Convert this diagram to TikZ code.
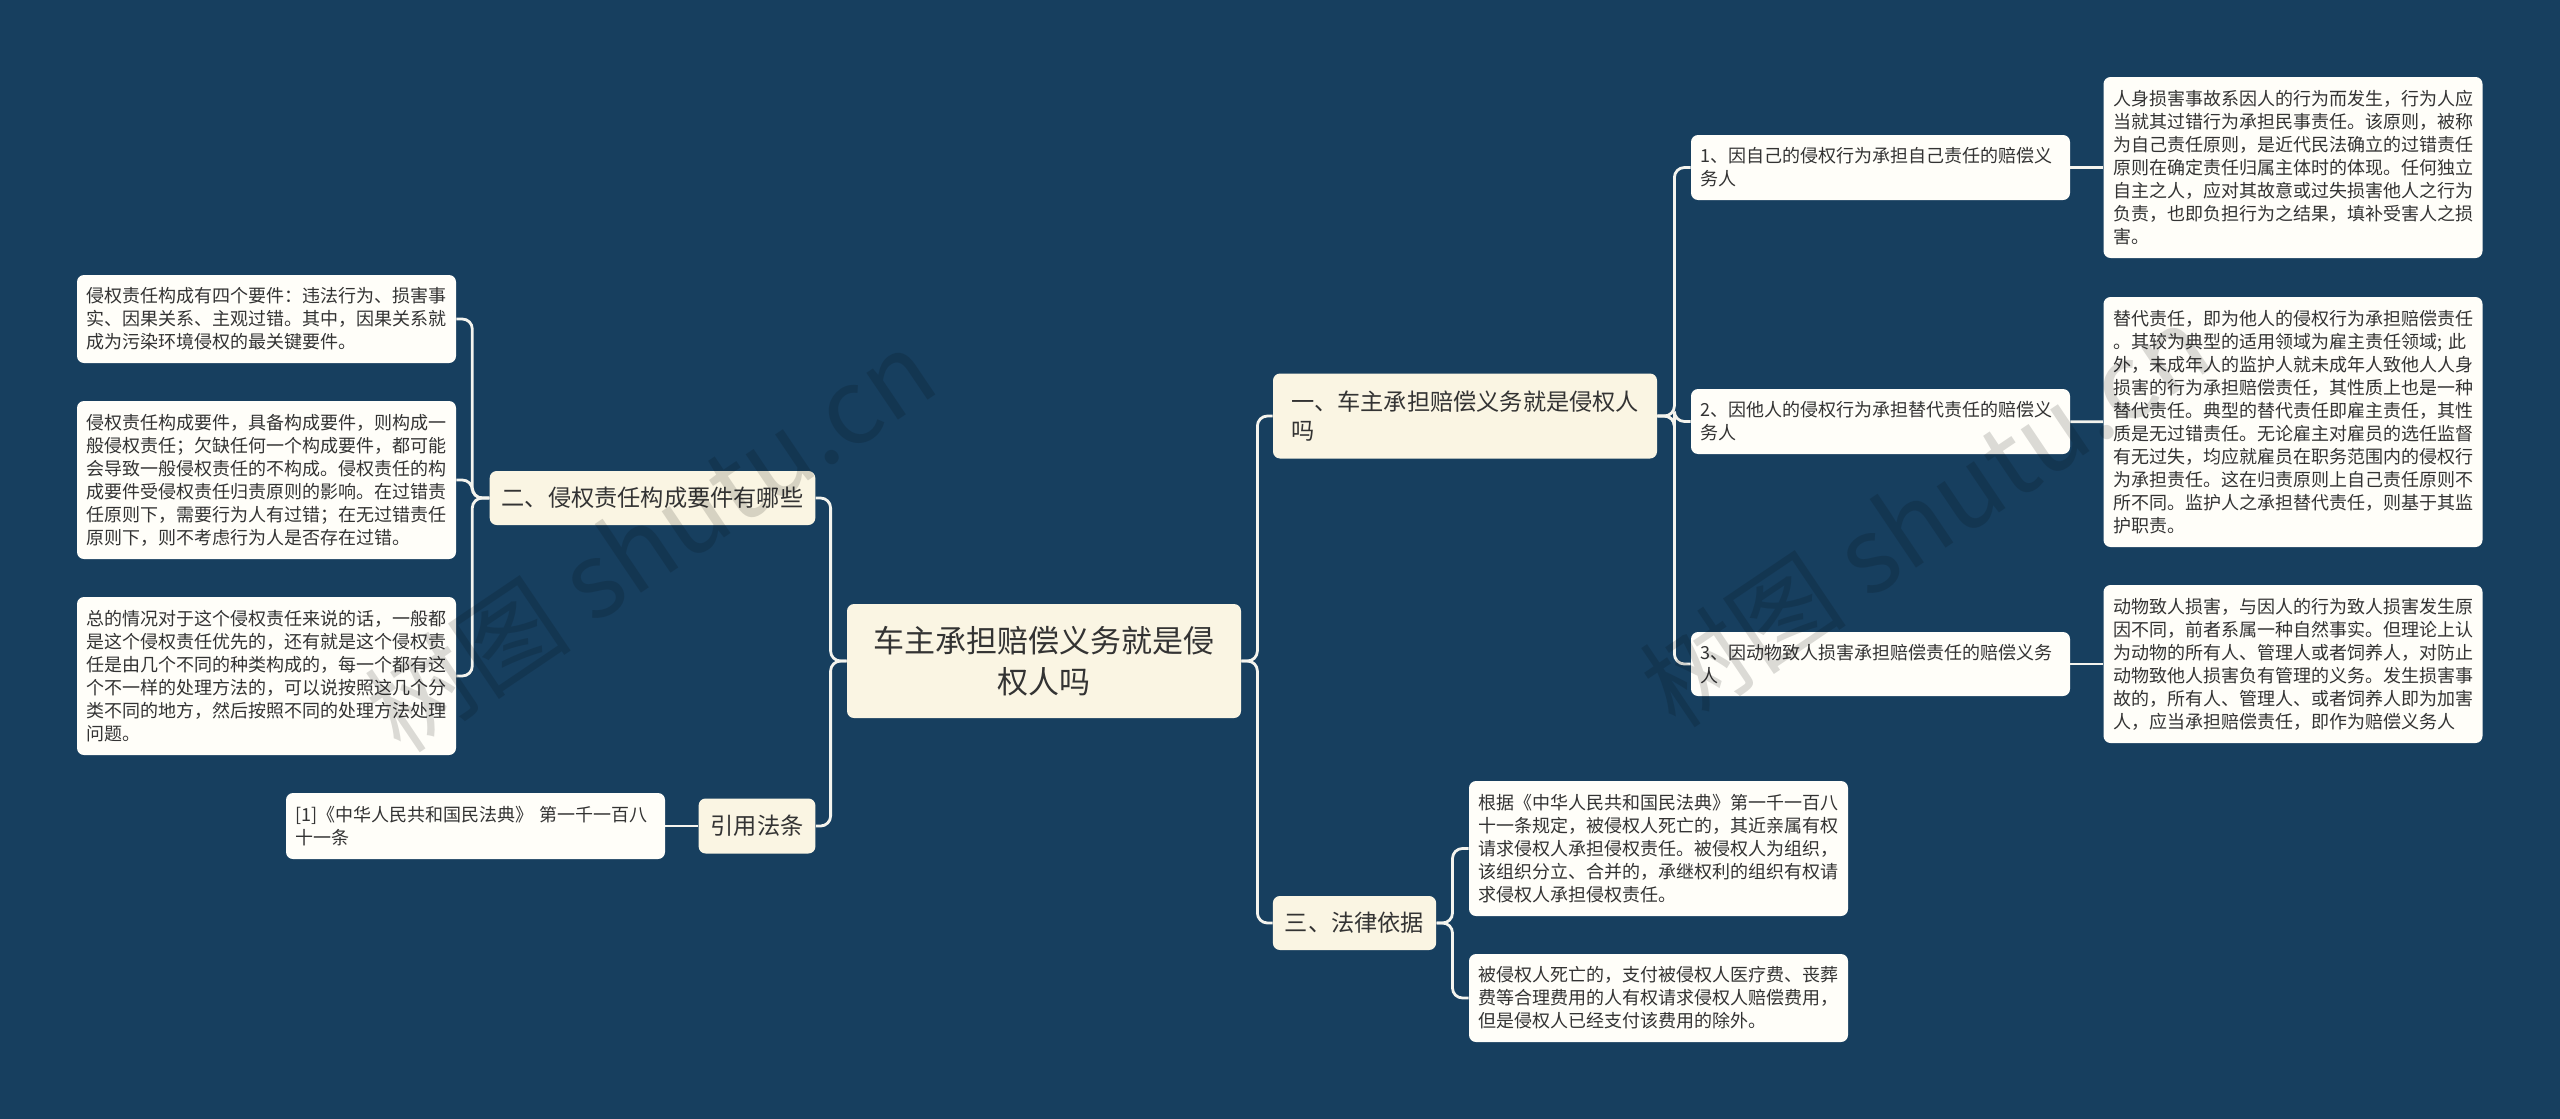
\documentclass[tikz,border=0pt]{standalone}
\usepackage{fontspec}
\setmainfont{Noto Sans CJK SC}
\definecolor{bgblue}{HTML}{173F5F}
\definecolor{paper}{HTML}{FFFEF9}
\definecolor{cream}{HTML}{FAF5E3}
\definecolor{wire}{HTML}{F4F4EE}
\definecolor{ink}{HTML}{333333}
\tikzset{
	box/.style={rectangle,rounded corners=3.5pt,text=ink,align=left,inner ysep=0pt},
	leaf/.style={box,fill=paper,inner xsep=4.75pt,text width=180pt,minimum width=189.5pt,font=\fontsize{9}{11.5}\selectfont},
	topic/.style={box,fill=cream,inner xsep=6pt,font=\fontsize{11.6}{14.5}\selectfont},
	link/.style={draw=wire,line width=1.4pt,rounded corners=5pt},
	stamp/.style={text=black,opacity=.14,rotate=34,font=\fontsize{52}{52}\selectfont}
}

\begin{document}
\begin{tikzpicture}
	[x=.5pt,y=-.5pt]
	\useasboundingbox (0,0) rectangle (2560,1119);
	\fill[bgblue] (0,0) rectangle (2560,1119);

	\node[box,fill=cream,align=center,inner xsep=6pt,minimum width=197pt,minimum height=57pt,font=\fontsize{15.5}{20.5}\selectfont] (root) at (1044,661) {车主承担赔偿义务就是侵\\权人吗};

	\node[topic,minimum width=192pt,minimum height=42.5pt] (one) at (1465,416) {一、车主承担赔偿义务就是侵权人\\吗};
	\node[topic,minimum width=81.5pt,minimum height=27pt] (three) at (1354.5,923) {三、法律依据};
	\node[topic,minimum width=162.5pt,minimum height=27pt] (two) at (652.5,498) {二、侵权责任构成要件有哪些};
	\node[topic,minimum width=58pt,minimum height=27.5pt] (law) at (757,826) {引用法条};

	\node[leaf,minimum height=32.5pt] (duty1) at (1880.5,167.5) {1、因自己的侵权行为承担自己责任的赔偿义\\务人};
	\node[leaf,minimum height=32.5pt] (duty2) at (1880.5,421.5) {2、因他人的侵权行为承担替代责任的赔偿义\\务人};
	\node[leaf,minimum height=32pt] (duty3) at (1880.5,664) {3、因动物致人损害承担赔偿责任的赔偿义务\\人};

	\node[leaf,minimum height=90.5pt] (self) at (2293,167.5) {人身损害事故系因人的行为而发生，行为人应\\当就其过错行为承担民事责任。该原则，被称\\为自己责任原则，是近代民法确立的过错责任\\原则在确定责任归属主体时的体现。任何独立\\自主之人，应对其故意或过失损害他人之行为\\负责，也即负担行为之结果，填补受害人之损\\害。};
	\node[leaf,minimum height=125pt] (proxy) at (2293,422) {替代责任，即为他人的侵权行为承担赔偿责任\\。其较为典型的适用领域为雇主责任领域; 此\\外，未成年人的监护人就未成年人致他人人身\\损害的行为承担赔偿责任，其性质上也是一种\\替代责任。典型的替代责任即雇主责任，其性\\质是无过错责任。无论雇主对雇员的选任监督\\有无过失，均应就雇员在职务范围内的侵权行\\为承担责任。这在归责原则上自己责任原则不\\所不同。监护人之承担替代责任，则基于其监\\护职责。};
	\node[leaf,minimum height=79pt] (animal) at (2293,664) {动物致人损害，与因人的行为致人损害发生原\\因不同，前者系属一种自然事实。但理论上认\\为动物的所有人、管理人或者饲养人，对防止\\动物致他人损害负有管理的义务。发生损害事\\故的，所有人、管理人、或者饲养人即为加害\\人，应当承担赔偿责任，即作为赔偿义务人};

	\node[leaf,minimum height=67.5pt] (basis1) at (1658.5,848.5) {根据《中华人民共和国民法典》第一千一百八\\十一条规定，被侵权人死亡的，其近亲属有权\\请求侵权人承担侵权责任。被侵权人为组织，\\该组织分立、合并的，承继权利的组织有权请\\求侵权人承担侵权责任。};
	\node[leaf,minimum height=44pt] (basis2) at (1658.5,998) {被侵权人死亡的，支付被侵权人医疗费、丧葬\\费等合理费用的人有权请求侵权人赔偿费用，\\但是侵权人已经支付该费用的除外。};

	\node[leaf,minimum height=44pt] (part1) at (266.5,319) {侵权责任构成有四个要件：违法行为、损害事\\实、因果关系、主观过错。其中，因果关系就\\成为污染环境侵权的最关键要件。};
	\node[leaf,minimum height=79pt] (part2) at (266.5,480) {侵权责任构成要件，具备构成要件，则构成一\\般侵权责任；欠缺任何一个构成要件，都可能\\会导致一般侵权责任的不构成。侵权责任的构\\成要件受侵权责任归责原则的影响。在过错责\\任原则下，需要行为人有过错；在无过错责任\\原则下，则不考虑行为人是否存在过错。};
	\node[leaf,minimum height=79pt] (part3) at (266.5,676) {总的情况对于这个侵权责任来说的话，一般都\\是这个侵权责任优先的，还有就是这个侵权责\\任是由几个不同的种类构成的，每一个都有这\\个不一样的处理方法的，可以说按照这几个分\\类不同的地方，然后按照不同的处理方法处理\\问题。};
	\node[leaf,minimum height=33pt] (cite) at (475.5,826) {[1]《中华人民共和国民法典》 第一千一百八\\十一条};

	\foreach \to in {one,three}
		\draw[link] (root.east) -- ++(16,0) |- (\to.west);
	\foreach \to in {two,law}
		\draw[link] (root.west) -- ++(-16,0) |- (\to.east);
	\foreach \to in {duty1,duty2,duty3}
		\draw[link] (one.east) -- ++(17,0) |- (\to.west);
	\foreach \to in {basis1,basis2}
		\draw[link] (three.east) -- ++(16,0) |- (\to.west);
	\foreach \to in {part1,part2,part3}
		\draw[link] (two.west) -- ++(-17,0) |- (\to.east);
	\draw[link] (duty1) -- (self);
	\draw[link] (duty2) -- (proxy);
	\draw[link] (duty3) -- (animal);
	\draw[link] (law) -- (cite);

	\node[stamp] (mark1) at (650,540) {树图 shutu.cn};
	\node[stamp] (mark2) at (1925,515) {树图 shutu.cn};
\end{tikzpicture}
\end{document}
